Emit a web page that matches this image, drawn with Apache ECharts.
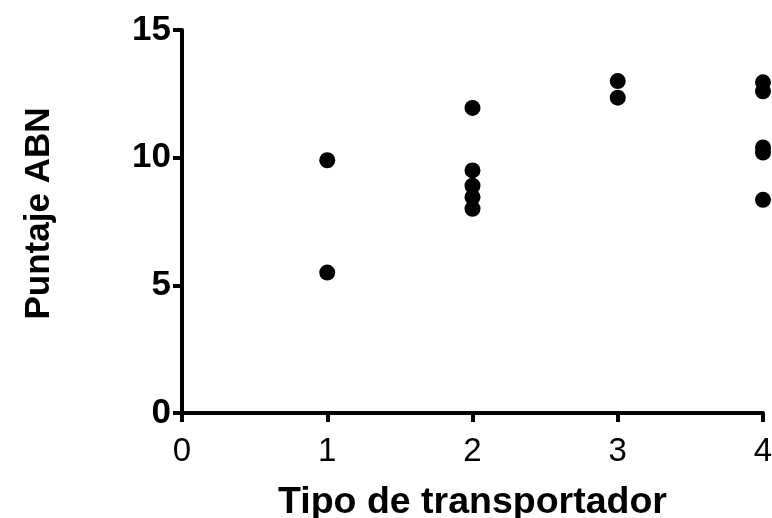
<!DOCTYPE html>
<html>
<head>
<meta charset="utf-8">
<style>
  html, body { margin: 0; padding: 0; background: #fff; }
  #chart { width: 772px; height: 518px; }
</style>
<script src="https://cdn.jsdelivr.net/npm/echarts@6/dist/echarts.min.js"></script>
</head>
<body>
<div id="chart"></div>
<script>
// Carrier type (x) and ABN score (y) for each observation
const tipo =    [1,   1,   2,    2,   2,   2,    2,   3,    3,     4,     4,    4,    4,    4];
const puntaje = [9.9, 5.5, 11.95, 9.5, 8.9, 8.45, 8.0, 13.0, 12.35, 12.95, 12.6, 10.4, 10.2, 8.35];

const xTicks = [0, 1, 2, 3, 4];
const yTicks = [0, 5, 10, 15];

const points = tipo.map((t, i) => [t, puntaje[i]]);

const chart = echarts.init(document.getElementById('chart'), null, { renderer: 'canvas' });

const axisLine = { show: true, onZero: false, lineStyle: { color: '#000', width: 4 } };
const axisTick = { show: true, length: 9, lineStyle: { color: '#000', width: 4 } };

chart.setOption({
  animation: false,
  backgroundColor: '#fff',
  grid: {
    left: 182, right: 9, top: 30, bottom: 105,
    containLabel: false,
    outerBoundsMode: 'none'
  },
  xAxis: {
    type: 'value',
    min: xTicks[0],
    max: xTicks[xTicks.length - 1],
    interval: 1,
    name: 'Tipo de transportador',
    nameLocation: 'middle',
    nameGap: 71,
    nameTextStyle: { fontFamily: 'Liberation Sans', fontWeight: 'bold', fontSize: 37.5, color: '#000' },
    axisLine: axisLine,
    axisTick: axisTick,
    splitLine: { show: false },
    axisLabel: {
      margin: 22,
      fontFamily: 'Liberation Sans',
      fontSize: 33,
      color: '#000'
    }
  },
  yAxis: {
    type: 'value',
    min: yTicks[0],
    max: yTicks[yTicks.length - 1],
    interval: 5,
    name: 'Puntaje ABN',
    nameLocation: 'middle',
    nameGap: 125,
    nameTextStyle: {
      fontFamily: 'Liberation Sans', fontWeight: 'bold', fontSize: 35, color: '#000',
      padding: [0, 0, 0, 16]
    },
    axisLine: axisLine,
    axisTick: axisTick,
    splitLine: { show: false },
    axisLabel: {
      margin: 11,
      fontFamily: 'Liberation Sans',
      fontWeight: 'bold',
      fontSize: 35,
      color: '#000'
    }
  },
  series: [{
    type: 'scatter',
    data: points,
    symbol: 'circle',
    symbolSize: 16,
    itemStyle: { color: '#000', opacity: 1 }
  }]
});
</script>
</body>
</html>
